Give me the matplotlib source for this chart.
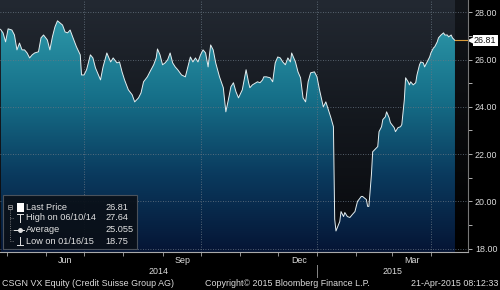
import numpy as np
import pandas as pd
import matplotlib
matplotlib.use('Agg')
import matplotlib.pyplot as plt
import matplotlib.dates as mdates
import matplotlib.transforms as mtransforms
from matplotlib.colors import LinearSegmentedColormap
from matplotlib.patches import PathPatch, Rectangle
from matplotlib.path import Path
from matplotlib.lines import Line2D
from matplotlib.ticker import FixedLocator, NullFormatter

plt.rcParams['font.family'] = ['Liberation Sans', 'DejaVu Sans']

# CSGN VX closing prices
dates = ['2014-04-26', '2014-04-28', '2014-04-30',
         '2014-05-02', '2014-05-05', '2014-05-07', '2014-05-09', '2014-05-11', '2014-05-13', '2014-05-15',
         '2014-05-17', '2014-05-19', '2014-05-21', '2014-05-23', '2014-05-26', '2014-05-28', '2014-05-30',
         '2014-06-02', '2014-06-04', '2014-06-06', '2014-06-08', '2014-06-10', '2014-06-14', '2014-06-16',
         '2014-06-18', '2014-06-20', '2014-06-22', '2014-06-25', '2014-06-28', '2014-06-29',
         '2014-07-01', '2014-07-03', '2014-07-06', '2014-07-08', '2014-07-10', '2014-07-14', '2014-07-16',
         '2014-07-19', '2014-07-22', '2014-07-24', '2014-07-27', '2014-07-29', '2014-07-31',
         '2014-08-02', '2014-08-05', '2014-08-08', '2014-08-10', '2014-08-13', '2014-08-15', '2014-08-17',
         '2014-08-20', '2014-08-22', '2014-08-25', '2014-08-27', '2014-08-28', '2014-08-30',
         '2014-09-01', '2014-09-03', '2014-09-05', '2014-09-07', '2014-09-09', '2014-09-11', '2014-09-13',
         '2014-09-16', '2014-09-19', '2014-09-21', '2014-09-23', '2014-09-25', '2014-09-27', '2014-09-29',
         '2014-10-01', '2014-10-03', '2014-10-05', '2014-10-07', '2014-10-09', '2014-10-11', '2014-10-13',
         '2014-10-16', '2014-10-19', '2014-10-21', '2014-10-23', '2014-10-25', '2014-10-27', '2014-10-29',
         '2014-10-31',
         '2014-11-03', '2014-11-06', '2014-11-08', '2014-11-09', '2014-11-11', '2014-11-15', '2014-11-17',
         '2014-11-19', '2014-11-20', '2014-11-22', '2014-11-25', '2014-11-27', '2014-11-29',
         '2014-12-01', '2014-12-03', '2014-12-05', '2014-12-07', '2014-12-09', '2014-12-11', '2014-12-12',
         '2014-12-15', '2014-12-17', '2014-12-19', '2014-12-21', '2014-12-23', '2014-12-25', '2014-12-27',
         '2014-12-30',
         '2015-01-01', '2015-01-03', '2015-01-06', '2015-01-08', '2015-01-10', '2015-01-12', '2015-01-14',
         '2015-01-15', '2015-01-16', '2015-01-19', '2015-01-20', '2015-01-22', '2015-01-23', '2015-01-25',
         '2015-01-27', '2015-01-29', '2015-01-31',
         '2015-02-02', '2015-02-05', '2015-02-06', '2015-02-09', '2015-02-10', '2015-02-11', '2015-02-13',
         '2015-02-14', '2015-02-17', '2015-02-18', '2015-02-19', '2015-02-21', '2015-02-22', '2015-02-24',
         '2015-02-25', '2015-02-27', '2015-02-28',
         '2015-03-03', '2015-03-04', '2015-03-06', '2015-03-08', '2015-03-09', '2015-03-11', '2015-03-12',
         '2015-03-14', '2015-03-15', '2015-03-16', '2015-03-18', '2015-03-20', '2015-03-21', '2015-03-23',
         '2015-03-24', '2015-03-26', '2015-03-27', '2015-03-29', '2015-03-31',
         '2015-04-01', '2015-04-03', '2015-04-04', '2015-04-06', '2015-04-07', '2015-04-09', '2015-04-11',
         '2015-04-12', '2015-04-14', '2015-04-15', '2015-04-17', '2015-04-18', '2015-04-20']

prices = [27.28, 27.13, 26.75,
          27.30, 27.25, 27.04, 26.41, 26.70, 26.41, 26.41,
          26.28, 26.07, 26.20, 26.28, 26.33, 26.92, 27.04,
          26.83, 26.41, 26.96, 27.38, 27.64, 27.46, 27.17,
          27.13, 27.25, 26.96, 26.54, 26.20, 25.35,
          25.35, 25.57, 26.20, 26.07, 25.65, 25.14, 25.69,
          26.28, 25.90, 26.07, 25.86, 25.90, 25.48,
          25.14, 24.72, 24.51, 24.21, 24.38, 24.59, 25.06,
          25.27, 25.48, 25.78, 26.07, 26.45, 26.20,
          25.78, 25.86, 25.99, 26.28, 25.86, 25.69, 25.57,
          25.35, 25.27, 25.69, 26.11, 25.90, 26.07, 25.90,
          26.20, 26.41, 26.28, 25.69, 26.62, 26.41, 25.86,
          25.27, 24.81, 23.79, 24.30, 24.85, 25.02, 24.64,
          24.38,
          24.72, 25.57, 25.02, 24.81, 24.93, 25.06, 25.02,
          25.14, 25.27, 25.27, 25.23, 25.06, 25.86,
          26.11, 26.07, 25.90, 25.78, 26.07, 25.90, 26.28,
          25.90, 25.48, 25.23, 24.38, 24.21, 25.06, 25.44,
          25.48,
          25.27, 24.72, 24.00, 24.21, 23.88, 23.54, 23.16,
          19.24, 18.75, 19.15, 19.57, 19.36, 19.53, 19.36,
          19.32, 19.45, 19.57,
          20.00, 20.21, 20.21, 20.08, 19.79, 19.79, 21.13,
          22.10, 22.27, 22.32, 22.95, 23.16, 23.46, 23.58,
          23.79, 23.54, 23.33,
          23.12, 22.95, 23.12, 23.16, 23.25, 24.30, 25.23,
          25.06, 24.93, 25.06, 24.93, 25.02, 25.35, 25.78,
          25.90, 25.86, 25.69, 25.90, 26.11,
          26.28, 26.49, 26.54, 26.75, 26.92, 27.04, 27.13,
          27.04, 27.04, 26.96, 27.04, 26.92, 26.81]

legend_labels = ['Last Price', 'High on 06/10/14', 'Average', 'Low on 01/16/15']
legend_values = ['26.81', '27.64', '25.055', '18.75']
last_price = 26.81

y_ticks = [18, 20, 22, 24, 26, 28]
y_minor = [19, 21, 23, 25, 27]
quarter_starts = ['2014-07-01', '2014-10-01', '2015-01-01', '2015-04-01']
month_labels = ['Jun', 'Sep', 'Dec', 'Mar']
month_label_dates = ['2014-06-16', '2014-09-17', '2014-12-18', '2015-03-17']
year_labels = ['2014', '2015']

ticker = 'CSGN VX Equity (Credit Suisse Group AG)'
copyright_txt = 'Copyright\u00a9 2015 Bloomberg Finance L.P.'
stamp = '21-Apr-2015 08:12:33'

W, H = 500, 290
FS = 6.4
TXT = '#dcdcdc'

fig = plt.figure(figsize=(W / 100, H / 100), dpi=100, facecolor='black')
ax = fig.add_axes([0, 38 / H, 468 / W, 252 / H])
ax.set_facecolor('black')

x = mdates.date2num(pd.to_datetime(dates))
anchor = mdates.date2num(pd.Timestamp('2014-07-01'))
xmin, xmax = anchor - 66.4, anchor + 303.3
ymin, ymax = 17.86, 28.52

grad = np.linspace(0, 1, 256).reshape(-1, 1)

# background gradient, darker strip after the last date
bg = LinearSegmentedColormap.from_list('bg', ['#07080b', '#13171d', '#232932'])
ax.imshow(grad, extent=[xmin, x[-1], ymin, ymax], origin='lower', cmap=bg, aspect='auto', zorder=0)
strip = LinearSegmentedColormap.from_list('strip', ['#000000', '#13161b'])
ax.imshow(grad, extent=[x[-1], xmax, ymin, ymax], origin='lower', cmap=strip, aspect='auto', zorder=0)

# teal gradient under the curve
verts = np.column_stack([np.r_[x[0], x, x[-1]], np.r_[ymin, prices, ymin]])
clip = PathPatch(Path(verts), transform=ax.transData, facecolor='none', edgecolor='none')
ax.add_patch(clip)
teal = LinearSegmentedColormap.from_list('teal', ['#051535', '#0a3a5e', '#167089', '#2c96a8'])
im = ax.imshow(grad, extent=[x[0], x[-1], ymin, max(prices)], origin='lower', cmap=teal,
               aspect='auto', zorder=1)
im.set_clip_path(clip)

ax.plot(x, prices, color='#e4eef0', lw=0.7, zorder=3)

# dotted grid
for q in quarter_starts:
    ax.axvline(mdates.date2num(pd.Timestamp(q)), color='#6a7784', lw=0.6, ls=(0, (1, 2)), zorder=2)
for yt in y_ticks:
    ax.axhline(yt, color='#6a7784', lw=0.6, ls=(0, (1, 2)), zorder=2)

ax.set_xlim(xmin, xmax)
ax.set_ylim(ymin, ymax)

# x axis: month ticks, mid-quarter labels
ax.xaxis.set_major_locator(mdates.MonthLocator())
ax.xaxis.set_major_formatter(NullFormatter())
ax.xaxis.set_minor_locator(FixedLocator(mdates.date2num(pd.to_datetime(month_label_dates))))
ax.xaxis.set_minor_formatter(matplotlib.ticker.FixedFormatter(month_labels))
ax.tick_params(axis='x', which='major', direction='out', length=3, width=0.6, color='#aaaaaa')
ax.tick_params(axis='x', which='minor', length=0, pad=3, labelsize=FS, labelcolor=TXT)

# y axis on the right
ax.yaxis.tick_right()
ax.set_yticks(y_ticks)
ax.set_yticklabels(['%.2f' % v for v in y_ticks])
ax.set_yticks(y_minor, minor=True)
ax.tick_params(axis='y', which='both', direction='out', length=3, width=0.6, color='#cccccc',
               labelsize=FS, labelcolor=TXT, pad=2)

for s in ['left', 'top']:
    ax.spines[s].set_visible(False)
ax.spines['right'].set_color('#777777')
ax.spines['right'].set_linewidth(0.8)
ax.spines['bottom'].set_color('#aaaaaa')
ax.spines['bottom'].set_linewidth(0.8)

# years under the months
xt = ax.get_xaxis_transform()
jan1 = mdates.date2num(pd.Timestamp('2015-01-01'))
ax.text((xmin + jan1) / 2, -20 / 252, year_labels[0], transform=xt, ha='center', va='center',
        fontsize=FS, color=TXT)
ax.text((jan1 + xmax) / 2, -20 / 252, year_labels[1], transform=xt, ha='center', va='center',
        fontsize=FS, color=TXT)
ax.plot([jan1, jan1], [-13 / 252, -25 / 252], transform=xt, clip_on=False, color='#888888', lw=0.7)

# last price marker
ax.plot([x[-1], xmax], [last_price, last_price], color='#d89a3a', lw=0.8, zorder=3)
bt = mtransforms.blended_transform_factory(ax.transAxes, ax.transData)
ax.plot([471 / 468], [last_price], marker='<', ms=4, color='white', transform=bt, clip_on=False)
ax.text(474 / 468, last_price, '%.2f' % last_price, transform=bt, ha='left', va='center',
        fontsize=FS, color='#111111',
        bbox=dict(boxstyle='square,pad=0.15', fc='white', ec='none'))

# footer
fy_foot = 1 - 284 / H
fig.text(2 / W, fy_foot, ticker, ha='left', va='center', fontsize=FS, color=TXT)
fig.text(205 / W, fy_foot, copyright_txt, ha='left', va='center', fontsize=FS, color=TXT)
fig.text(498 / W, fy_foot, stamp, ha='right', va='center', fontsize=FS, color=TXT)


# legend box (pixel coordinates from the top-left)
def fx(px):
    return px / W


def fy(py):
    return 1 - py / H


def seg(x0, y0, x1, y1, **kw):
    fig.add_artist(Line2D([fx(x0), fx(x1)], [fy(y0), fy(y1)], transform=fig.transFigure, **kw))


fig.add_artist(Rectangle((fx(3), fy(249)), 134 / W, 54 / H, transform=fig.transFigure,
                         fc='#0a1018', ec='#50565e', lw=0.8, alpha=0.93))
rows_y = [207, 218, 230, 241]
for ry, lab, val in zip(rows_y, legend_labels, legend_values):
    fig.text(fx(26), fy(ry), lab, va='center', ha='left', fontsize=6.6, color='#e2e2e2')
    fig.text(fx(105), fy(ry), val, va='center', ha='left', fontsize=6.6, color='#e2e2e2')

lc = dict(color='#aaaaaa', lw=0.6)
fig.add_artist(Rectangle((fx(8), fy(209)), 4 / W, 4 / H, transform=fig.transFigure,
                         fc='none', ec='#aaaaaa', lw=0.5))
seg(9, 207, 11, 207, **lc)
seg(10, 210, 10, 241, color='#999999', lw=0.6, ls=':')
for ry in rows_y[1:]:
    seg(10, ry, 14, ry, color='#999999', lw=0.6, ls=':')
fig.add_artist(Rectangle((fx(17), fy(212)), 7 / W, 9 / H, transform=fig.transFigure,
                         fc='white', ec='none'))
wc = dict(color='#e2e2e2', lw=0.7)
seg(17, 214, 23, 214, **wc)
seg(20, 214, 20, 222, **wc)
seg(14, 230, 24, 230, **wc)
fig.add_artist(Line2D([fx(19.5)], [fy(230)], marker='o', ms=2.5, color='#e2e2e2',
                      transform=fig.transFigure))
seg(20, 237, 20, 245, **wc)
seg(17, 245, 23, 245, **wc)

fig.savefig('out.png', dpi=100, facecolor='black')
